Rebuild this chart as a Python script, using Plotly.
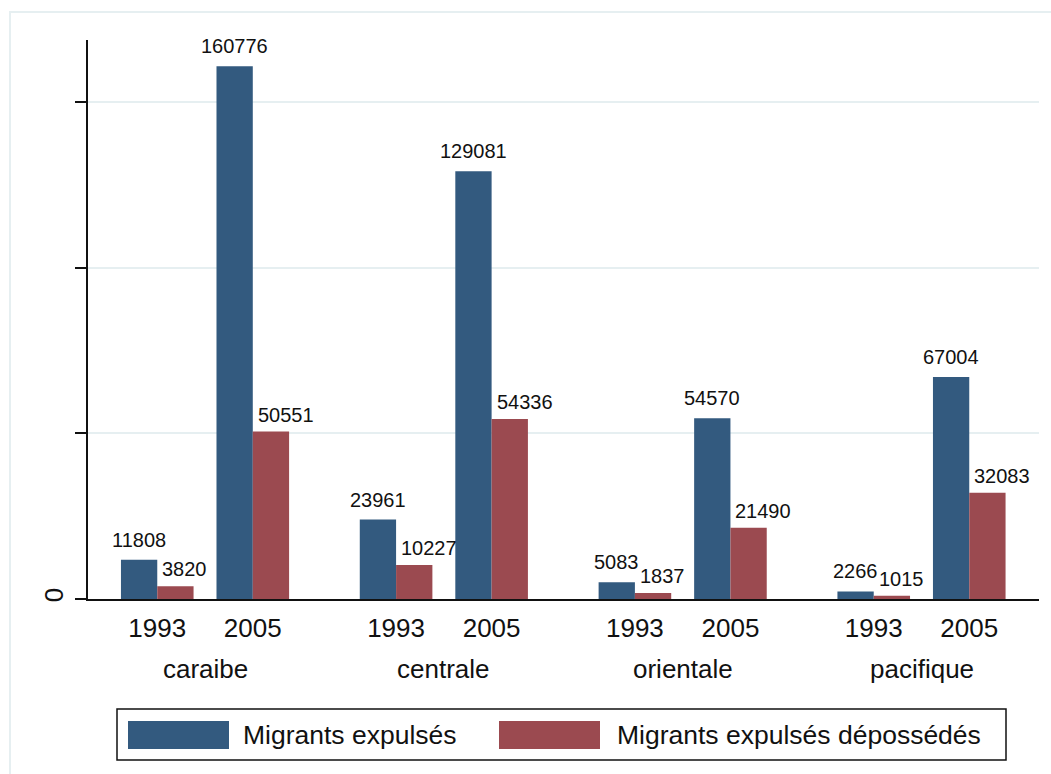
import plotly.graph_objects as go

regions = ["caraibe", "centrale", "orientale", "pacifique"]
years = ["1993", "2005"]
migrants_expulses = [11808, 160776, 23961, 129081, 5083, 54570, 2266, 67004]
migrants_deposs = [3820, 50551, 10227, 54336, 1837, 21490, 1015, 32083]
series_names = ["Migrants expulsés", "Migrants expulsés dépossédés"]
y_ticks = [0, 50000, 100000, 150000]
y_ticktext = ["0", "", "", ""]

BLUE = "#335a7f"
RED = "#9b4a50"
GRID = "#e6eff1"
TXT = "#111111"
FONT = "Arial, Liberation Sans, sans-serif"

W, H = 1051, 774
L, R, T, B = 88, 12, 40, 175
PW, PH = W - L - R, H - T - B

def px(xpix):
    return (xpix - L) / PW

def py(ypix):
    return (H - B - ypix) / PH

GROUP_STEP = 2.5
xs = []
for g in range(len(regions)):
    for j in range(len(years)):
        xs.append(g * GROUP_STEP + j)
tick_text = [years[j] for g in range(len(regions)) for j in range(len(years))]

BW = 0.38
fig = go.Figure()
fig.add_trace(go.Bar(
    x=xs, y=migrants_expulses, name=series_names[0],
    width=BW, offset=-BW, marker=dict(color=BLUE, line=dict(width=0)),
    showlegend=False,
))
fig.add_trace(go.Bar(
    x=xs, y=migrants_deposs, name=series_names[1],
    width=BW, offset=0, marker=dict(color=RED, line=dict(width=0)),
    showlegend=False,
))

annotations = []
# value labels
for x, v in zip(xs, migrants_expulses):
    annotations.append(dict(
        x=x - BW / 2, y=v, xref="x", yref="y", text=str(v), showarrow=False,
        xanchor="center", yanchor="bottom", yshift=7,
        font=dict(size=20, color=TXT, family=FONT),
    ))
for x, v in zip(xs, migrants_deposs):
    annotations.append(dict(
        x=x, y=v, xref="x", yref="y", text=str(v), showarrow=False,
        xanchor="left", yanchor="bottom", xshift=3, yshift=4,
        font=dict(size=20, color=TXT, family=FONT),
    ))

for g, name in enumerate(regions):
    annotations.append(dict(
        x=g * GROUP_STEP + 0.5, xref="x", y=py(669), yref="paper",
        text=name, showarrow=False, xanchor="center", yanchor="middle",
        font=dict(size=26, color=TXT, family=FONT),
    ))

shapes = [
    # outer graph region frame
    dict(type="rect", xref="paper", yref="paper",
         x0=px(10), x1=px(1100), y0=py(800), y1=py(12),
         line=dict(color=GRID, width=2), fillcolor="rgba(0,0,0,0)", layer="below"),
    # legend box
    dict(type="rect", xref="paper", yref="paper",
         x0=px(117), x1=px(1006), y0=py(760), y1=py(709),
         line=dict(color=TXT, width=1.5), fillcolor="white"),
    dict(type="rect", xref="paper", yref="paper",
         x0=px(128), x1=px(229), y0=py(749), y1=py(721),
         line=dict(width=0), fillcolor=BLUE),
    dict(type="rect", xref="paper", yref="paper",
         x0=px(499), x1=px(600), y0=py(749), y1=py(721),
         line=dict(width=0), fillcolor=RED),
]
annotations.append(dict(x=px(241), xref="paper", y=py(735), yref="paper",
                        text=series_names[0], showarrow=False, xanchor="left", yanchor="middle",
                        font=dict(size=26.5, color=TXT, family=FONT)))
annotations.append(dict(x=px(615), xref="paper", y=py(735), yref="paper",
                        text=series_names[1], showarrow=False, xanchor="left", yanchor="middle",
                        font=dict(size=26.5, color=TXT, family=FONT)))

fig.update_layout(
    width=W, height=H,
    margin=dict(l=L, r=R, t=T, b=B, pad=0),
    paper_bgcolor="white", plot_bgcolor="white",
    barmode="overlay", showlegend=False,
    font=dict(family=FONT, color=TXT),
    annotations=annotations, shapes=shapes,
    xaxis=dict(
        range=[-0.725, 9.23],
        tickmode="array", tickvals=xs, ticktext=tick_text,
        ticks="", showgrid=False, zeroline=False,
        showline=True, linecolor=TXT, linewidth=1.5,
        tickfont=dict(size=26, color=TXT, family=FONT),
        ticklabelstandoff=5,
    ),
    yaxis=dict(
        range=[0, 168700],
        tickmode="array", tickvals=y_ticks, ticktext=y_ticktext,
        ticks="outside", ticklen=11, tickwidth=1.5, tickcolor=TXT,
        tickangle=-90, ticklabelstandoff=2,
        showgrid=True, gridcolor=GRID, gridwidth=2,
        zeroline=False, showline=True, linecolor=TXT, linewidth=1.5,
        tickfont=dict(size=26, color=TXT, family=FONT),
    ),
)

fig.write_html("out.html", config={"displayModeBar": False},
               post_script="document.body.style.margin='0';")
